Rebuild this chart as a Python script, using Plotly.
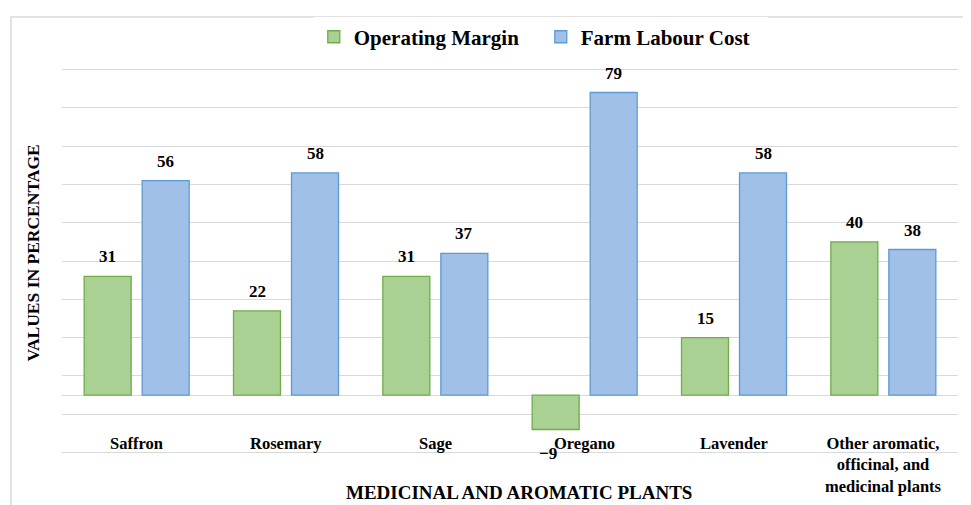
import plotly.graph_objects as go

categories = ["Saffron", "Rosemary", "Sage", "Oregano", "Lavender",
              "Other aromatic,<br>officinal, and<br>medicinal plants"]
operating_margin = [31, 22, 31, -9, 15, 40]
farm_labour_cost = [56, 58, 37, 79, 58, 38]

FONT = "Palatino Linotype, Book Antiqua, Liberation Serif, serif"
colors = {
    'green_fill': '#a9d193',
    'green_line': '#70ad47',
    'blue_fill': '#a0c0e7',
    'blue_line': '#5b9bd5',
    'grid': '#d9d9d9',
    'text': '#000000',
}
BAR_OFFSET = 29  # px from the category centre to each bar centre


def fmt(v):
    return str(v).replace("-", "\u2212")


trace_margin = go.Bar(
    name="<b>Operating Margin</b>",
    x=categories,
    y=operating_margin,
    marker=dict(color=colors['green_fill'],
                line=dict(color=colors['green_line'], width=1.3)))

trace_labour = go.Bar(
    name="<b>Farm Labour Cost</b>",
    x=categories,
    y=farm_labour_cost,
    marker=dict(color=colors['blue_fill'],
                line=dict(color=colors['blue_line'], width=1.3)))

fig = go.Figure(data=[trace_margin, trace_labour])

label_font = dict(family=FONT, size=17, color=colors['text'])
annotations = []
# category names sit inside the plot, below the zero line
for cat in categories:
    annotations.append(dict(x=cat, y=-9.6, xref="x", yref="y", text="<b>%s</b>" % cat,
                            showarrow=False, yanchor="top",
                            font=dict(family=FONT, size=16.5, color=colors['text'])))
# value labels
for series, side in ((operating_margin, -1), (farm_labour_cost, 1)):
    for cat, v in zip(categories, series):
        if v >= 0:
            annotations.append(dict(x=cat, y=v, xref="x", yref="y", text="<b>%s</b>" % fmt(v),
                                    showarrow=False, yanchor="bottom", yshift=8,
                                    xshift=side * BAR_OFFSET, font=label_font))
        else:
            # negative label pushed below the category text, as in the source
            annotations.append(dict(x=cat, y=v, xref="x", yref="y", text="<b>%s</b>" % fmt(v),
                                    showarrow=False, yanchor="top", yshift=-13,
                                    xshift=-37, font=label_font))
annotations.append(dict(x=-0.0324, y=0.522, xref="paper", yref="paper",
                        xanchor="center", yanchor="middle",
                        text="<b>VALUES IN PERCENTAGE</b>", textangle=-90, showarrow=False,
                        font=dict(family=FONT, size=17.5, color=colors['text'])))
annotations.append(dict(x=0.51, y=-0.101, xref="paper", yref="paper",
                        xanchor="center", yanchor="middle",
                        text="<b>MEDICINAL AND AROMATIC PLANTS</b>", showarrow=False,
                        font=dict(family=FONT, size=19, color=colors['text'])))

# page body adds 8px, so the figure is a bit smaller than the window
fig.update_layout(
    width=963, height=497,
    margin=dict(l=54, r=13, t=60, b=51, autoexpand=False),
    barmode="group",
    bargap=0.223,
    bargroupgap=0.19,
    plot_bgcolor="white",
    paper_bgcolor="white",
    font=dict(family=FONT, size=16, color=colors['text']),
    showlegend=True,
    legend=dict(orientation="h", x=0.281, y=1.080, xanchor="left", yanchor="middle",
                entrywidth=182, entrywidthmode="pixels",
                font=dict(family=FONT, size=21, color=colors['text']),
                traceorder="normal"),
    xaxis=dict(showticklabels=False, showgrid=False, showline=False, ticks=""),
    # range padded a little so the end grid lines are not clipped
    yaxis=dict(range=[-15.4, 85.4], tick0=5, dtick=10, showticklabels=False,
               showgrid=True, gridcolor=colors['grid'], gridwidth=1,
               zeroline=True, zerolinecolor=colors['grid'], zerolinewidth=1,
               showline=False),
    annotations=annotations,
    shapes=[dict(type="rect", xref="paper", yref="paper",
                 x0=-0.0569, x1=1.2, y0=-0.3, y1=1.132,
                 line=dict(color=colors['grid'], width=1.5), layer="below")],
)

fig.write_html("out.html")
